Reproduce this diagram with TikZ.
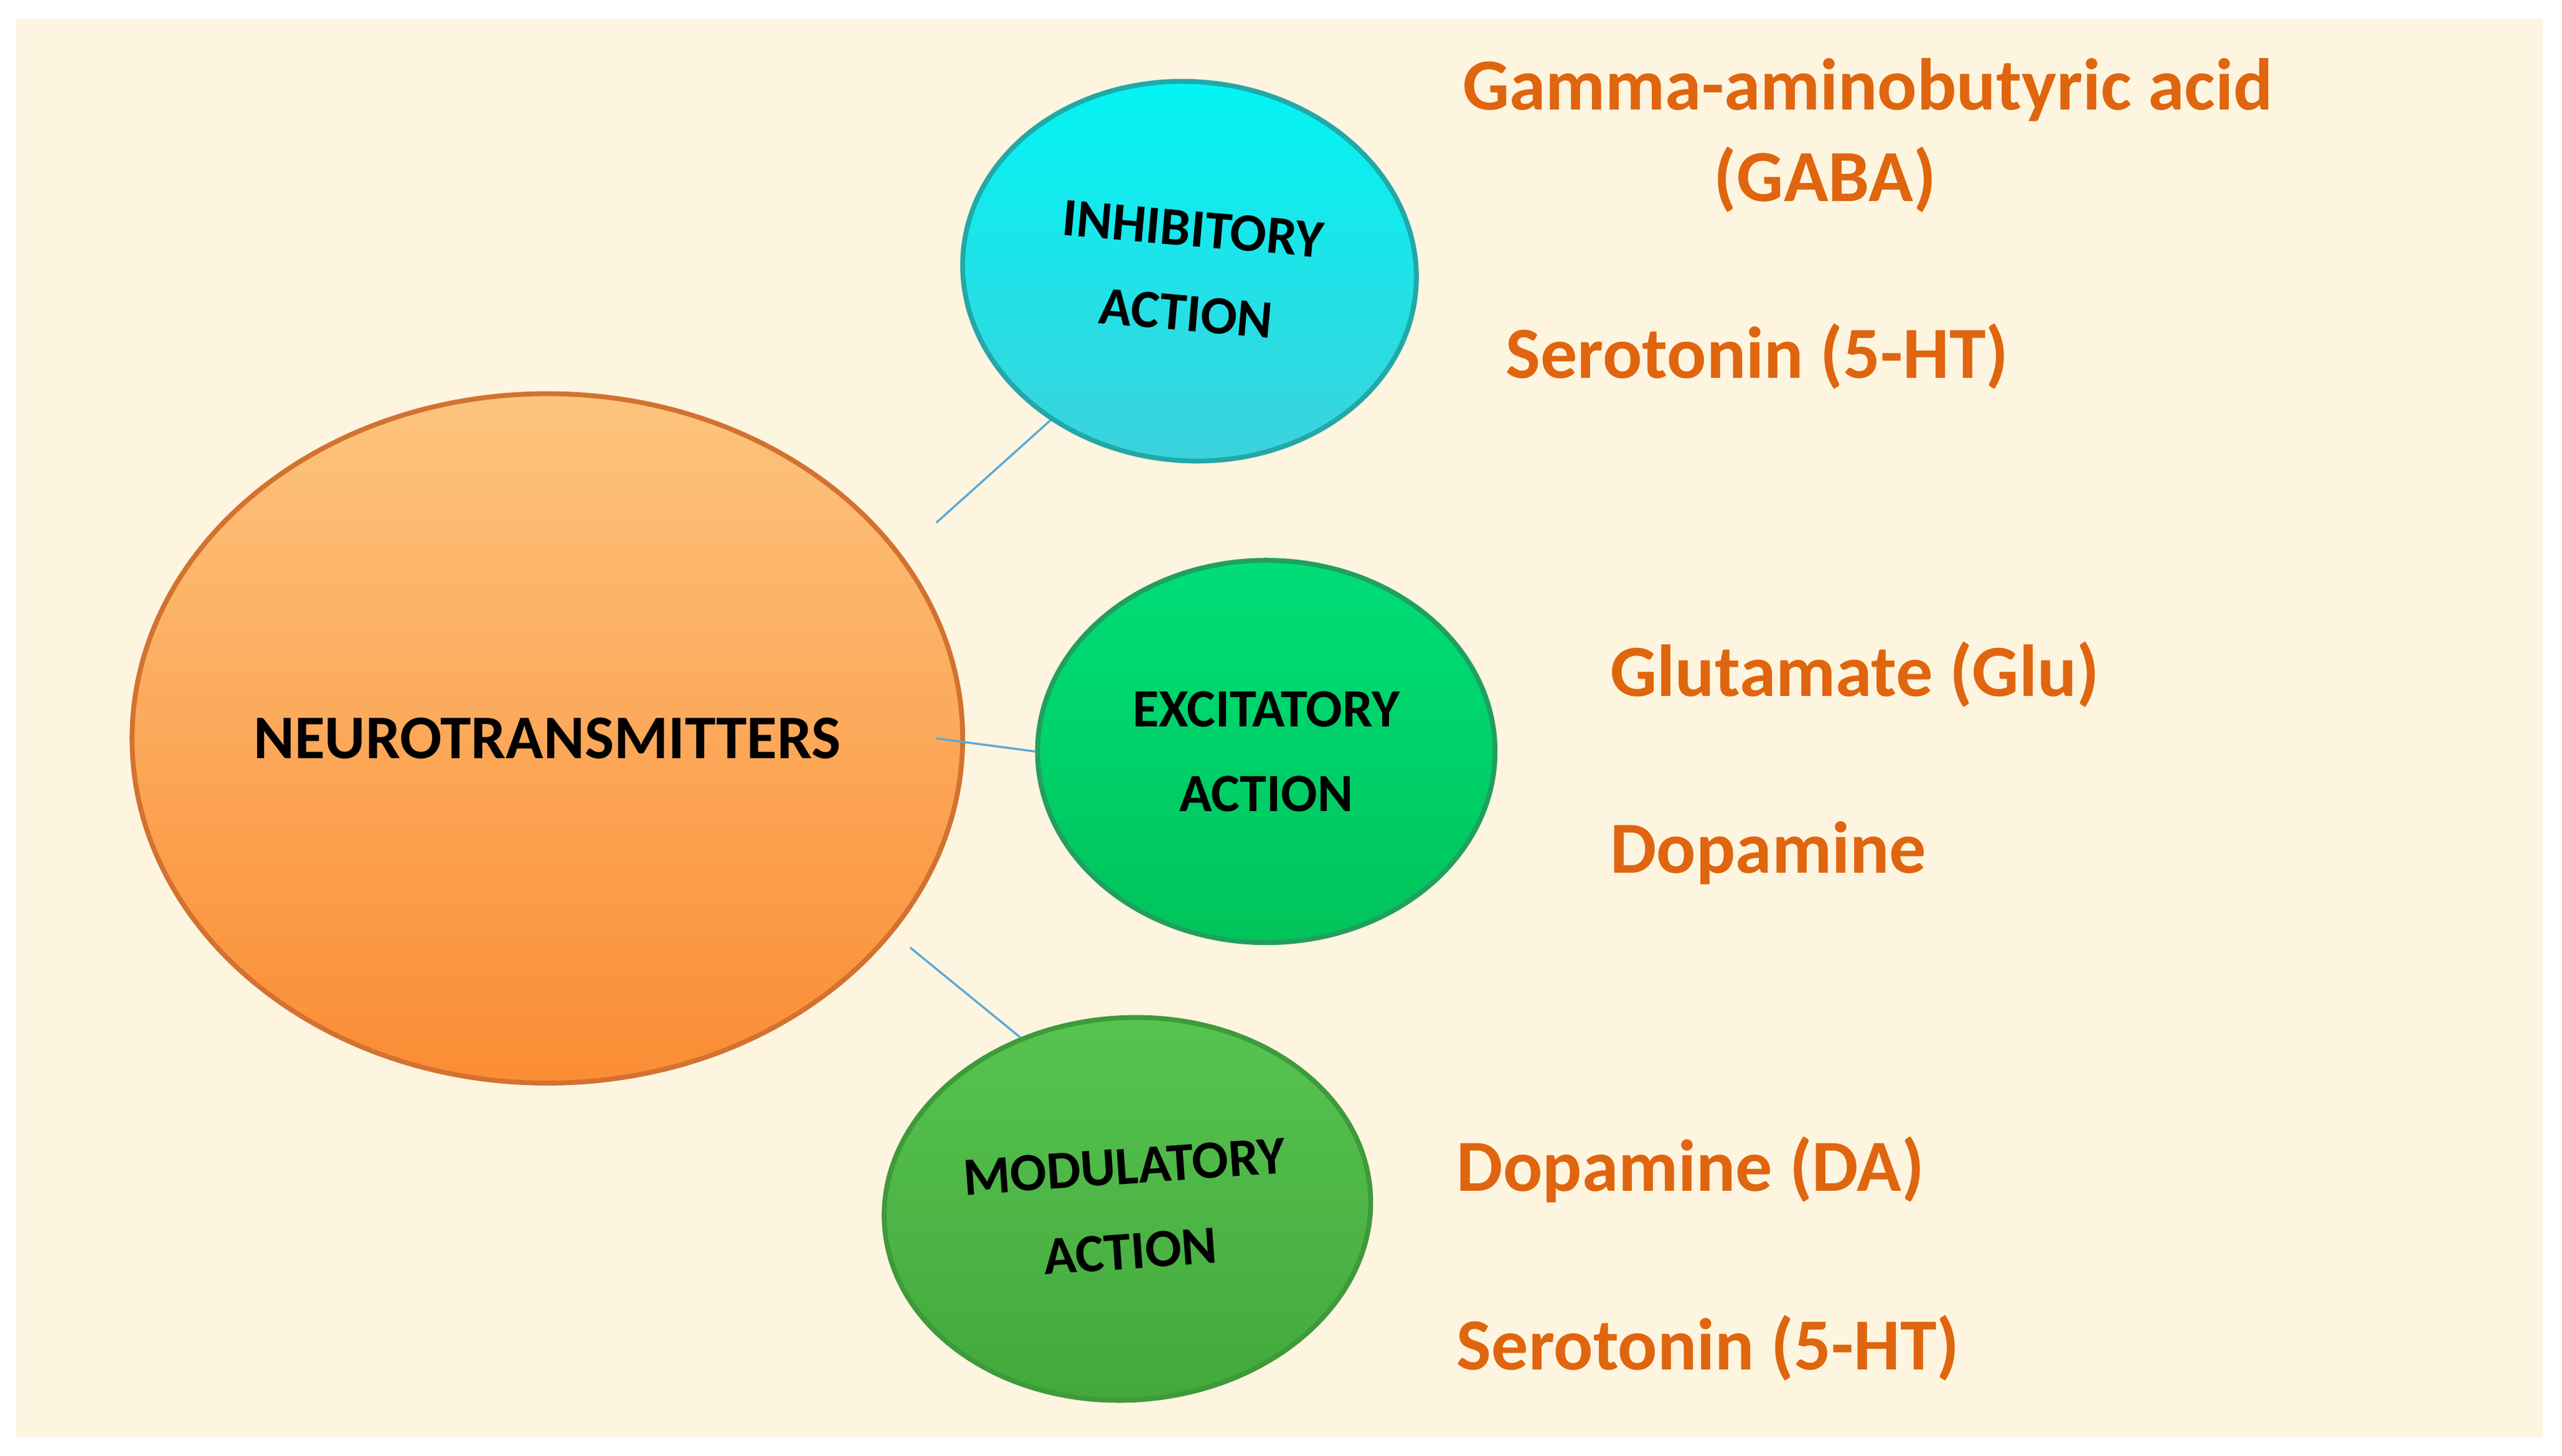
\documentclass[tikz,border=0pt]{standalone}
\usepackage{fontspec}
\setmainfont{Carlito}
\usetikzlibrary{shapes.geometric}
\definecolor{bg}{HTML}{FDF5DF}
\definecolor{txo}{HTML}{E0650F}
\definecolor{lnk}{HTML}{5AAAD8}
\definecolor{ntd}{HTML}{D37230}\definecolor{ntt}{HTML}{FDC47E}\definecolor{ntb}{HTML}{FB8C34}
\definecolor{ind}{HTML}{22A8A8}\definecolor{int}{HTML}{00F5F5}\definecolor{inb}{HTML}{3CD2DC}
\definecolor{exd}{HTML}{20A060}\definecolor{ext}{HTML}{00DE78}\definecolor{exb}{HTML}{00C45A}
\definecolor{mod}{HTML}{3E9A3A}\definecolor{mot}{HTML}{58C450}\definecolor{mob}{HTML}{42A83C}
\tikzset{
 blob/.style={ellipse,line width=3pt,inner sep=0pt,font=\bfseries\fontsize{33}{52}\selectfont,align=center,text=black},
 item/.style={font=\bfseries\fontsize{45}{54}\selectfont,text=txo,anchor=west},
 link/.style={lnk,line width=1.3pt}
}
\begin{document}
\begin{tikzpicture}[x=1pt,y=-1pt]
\useasboundingbox (0,0) rectangle (1568,891);
\fill[white] (0,0) rectangle (1568,891);
\fill[bg] (10,12) rectangle (1556,880);
\node[blob,minimum width=440,minimum height=422,draw=ntd,top color=ntt,bottom color=ntb,font=\bfseries\fontsize{38}{44}\selectfont] (nt) at (335,452) {NEUROTRANSMITTERS};
\node[blob,minimum width=278,minimum height=232,rotate=-5,draw=ind,top color=int,bottom color=inb] (inh) at (728,166) {INHIBITORY\\ACTION};
\node[blob,minimum width=280,minimum height=234,draw=exd,top color=ext,bottom color=exb] (exc) at (775,460) {EXCITATORY\\ACTION};
\node[blob,minimum width=298,minimum height=234,rotate=4,draw=mod,top color=mot,bottom color=mob] (modn) at (690,740) {MODULATORY\\ACTION};
\coordinate (a1) at (573,320); \coordinate (a2) at (573,452); \coordinate (a3) at (557,580);
\draw[link] (a1) -- (inh.-128);
\draw[link] (a2) -- (exc.west);
\draw[link] (a3) -- (modn.118);
\node[item,anchor=center] (g1) at (1143,55) {Gamma-aminobutyric acid};
\node[item,anchor=center] (g2) at (1117,110) {(GABA)};
\node[item] (s1) at (918,218) {Serotonin (5-HT)};
\node[item] (gl) at (982,413) {Glutamate (Glu)};
\node[item] (dp) at (982,522) {Dopamine};
\node[item] (da) at (888,716) {Dopamine (DA)};
\node[item] (s2) at (888,825) {Serotonin (5-HT)};
\end{tikzpicture}
\end{document}
